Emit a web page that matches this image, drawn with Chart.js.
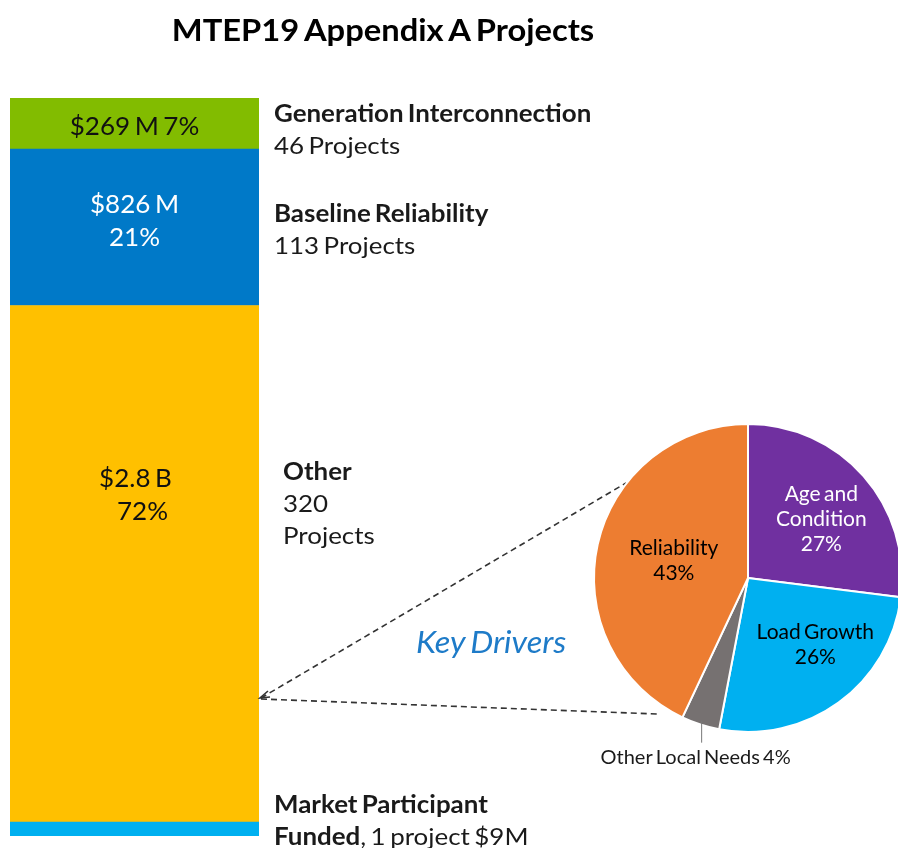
<!DOCTYPE html>
<html><head><meta charset="utf-8">
<script src="https://cdn.jsdelivr.net/npm/chart.js@4.4.1/dist/chart.umd.min.js"></script>
<style>
html,body{margin:0;padding:0;width:898px;height:848px;overflow:hidden;background:#fff;}
#bar{position:absolute;left:0;top:0;}
#pie{position:absolute;left:580px;top:410px;}
</style></head><body>
<canvas id="bar" width="898" height="848"></canvas>
<canvas id="pie" width="340" height="370"></canvas>
<script>
// ---- data ----
const barCategories = ['MTEP19 Appendix A'];
const barSeries = ['Market Participant Funded', 'Other', 'Baseline Reliability', 'Generation Interconnection'];
const barValuesM = [9, 2800, 826, 269];
const barValueLabels = ['$9M', '$2.8 B', '$826 M', '$269 M'];
const barPercents = ['', '72%', '21%', '7%'];
const barProjects = [1, 320, 113, 46];
const barColors = ['#00B0F0', '#FFC000', '#0079C8', '#82BC00'];
const pieLabels = ['Age and Condition', 'Load Growth', 'Other Local Needs', 'Reliability'];
const pieValues = [27, 26, 4, 43];
const pieColors = ['#7030A0', '#00B0F0', '#767171', '#ED7D31'];

const FONT = 'Lato, "Open Sans", sans-serif';
// main stack (the small Market Participant band is overlaid at the base)
const mainStackTotal = barValuesM.slice(1).reduce((a, b) => a + b, 0);

function txt(ctx, s, x, y, font, sx, align, color, ws) {
  ctx.save();
  ctx.font = font;
  ctx.fillStyle = color;
  ctx.textAlign = align || 'left';
  ctx.textBaseline = 'middle';
  if ('wordSpacing' in ctx) ctx.wordSpacing = (ws == null ? -2 : ws) + 'px';
  ctx.translate(x, y);
  ctx.scale(sx, 1);
  ctx.fillText(s, 0, 0);
  const w = ctx.measureText(s).width * sx;
  ctx.restore();
  return w;
}

const barAnnot = {
  id: 'barAnnot',
  afterDraw(chart) {
    const ctx = chart.ctx;
    const el = i => chart.getDatasetMeta(i).data[0];
    // title
    txt(ctx, 'MTEP19 Appendix A Projects', 383, 31, 'bold 30px ' + FONT, 1.09, 'center', '#000', -3);

    // segment labels
    const segF = '25px ' + FONT;
    let e = el(3);
    txt(ctx, barValueLabels[3] + ' ' + barPercents[3], e.x, (e.y + e.base) / 2 + 3, segF, 1.04, 'center', '#111');
    e = el(2);
    txt(ctx, barValueLabels[2], e.x, e.y + 56, segF, 1.04, 'center', '#fff');
    txt(ctx, barPercents[2], e.x, e.y + 89, segF, 1.04, 'center', '#fff');
    e = el(1);
    txt(ctx, barValueLabels[1], e.x + 1, e.y + 173, segF, 1.04, 'center', '#111');
    txt(ctx, barPercents[1], e.x + 8, e.y + 206, segF, 1.04, 'center', '#111');

    // right side labels
    const bF = 'bold 24px ' + FONT, rF = '24px ' + FONT, S = 1.08, C = '#1a1a1a';
    txt(ctx, barSeries[3], 274, 114, bF, S, 'left', C);
    txt(ctx, barProjects[3] + ' Projects', 274, 146, rF, S, 'left', C);
    txt(ctx, barSeries[2], 274, 214, bF, S, 'left', C);
    txt(ctx, barProjects[2] + ' Projects', 274, 246, rF, S, 'left', C);
    txt(ctx, barSeries[1], 283, 472, bF, S, 'left', C);
    txt(ctx, String(barProjects[1]), 283, 504, rF, S, 'left', C);
    txt(ctx, 'Projects', 283, 536, rF, S, 'left', C);
    txt(ctx, 'Market Participant', 274, 805, bF, S, 'left', C);
    const fw = txt(ctx, 'Funded', 274, 837, bF, S, 'left', C);
    txt(ctx, ', ' + barProjects[0] + ' project ' + barValueLabels[0], 274 + fw, 837, rF, S, 'left', C);

    // dashed connector lines
    ctx.save();
    ctx.strokeStyle = '#333';
    ctx.lineWidth = 1.6;
    ctx.setLineDash([6, 4]);
    ctx.beginPath();
    ctx.moveTo(261, 698); ctx.lineTo(626, 483);
    ctx.moveTo(261, 699); ctx.lineTo(657, 714);
    ctx.stroke();
    ctx.setLineDash([]);
    ctx.beginPath();
    ctx.moveTo(268, 691); ctx.lineTo(260, 698); ctx.lineTo(270, 697);
    ctx.stroke();
    ctx.restore();

    // Key Drivers
    txt(ctx, 'Key Drivers', 416, 643, 'italic 31px ' + FONT, 1.05, 'left', '#1E7BC8', -3);
  }
};

new Chart(document.getElementById('bar'), {
  type: 'bar',
  data: {
    labels: barCategories,
    datasets: barSeries.map((s, i) => ({
      label: s,
      data: [barValuesM[i]],
      backgroundColor: barColors[i],
      borderWidth: 0,
      barPercentage: 1,
      categoryPercentage: 1,
      grouped: false,
      stack: i === 0 ? 'base' : 'main',
      minBarLength: i === 0 ? 14 : 0
    }))
  },
  options: {
    responsive: false,
    animation: false,
    events: [],
    layout: { padding: { left: 10, right: 639, top: 98, bottom: 12 } },
    plugins: { legend: { display: false }, tooltip: { enabled: false } },
    scales: {
      x: { display: false, stacked: true },
      y: { display: false, stacked: true, min: 0, max: mainStackTotal }
    }
  },
  plugins: [barAnnot]
});

const pieAnnot = {
  id: 'pieAnnot',
  afterDatasetsDraw(chart) {
    const ctx = chart.ctx;
    const arcs = chart.getDatasetMeta(0).data;
    const F = '21px ' + FONT;
    const specs = [
      { lines: ['Age and', 'Condition', pieValues[0] + '%'], color: '#fff', f: 0.6, dx: 4, dy: 2 },
      { lines: ['Load Growth', pieValues[1] + '%'], color: '#000', f: 0.6, dx: 13, dy: -8 },
      null,
      { lines: ['Reliability', pieValues[3] + '%'], color: '#000', f: 0.6, dx: 16, dy: 3 }
    ];
    arcs.forEach((a, i) => {
      const p = a.getProps(['x', 'y', 'startAngle', 'endAngle', 'outerRadius']);
      const mid = (p.startAngle + p.endAngle) / 2;
      if (specs[i]) {
        const s = specs[i];
        const cx = p.x + Math.cos(mid) * p.outerRadius * s.f + s.dx;
        const cy = p.y + Math.sin(mid) * p.outerRadius * s.f + s.dy;
        const n = s.lines.length;
        s.lines.forEach((t, k) => txt(ctx, t, cx, cy + (k - (n - 1) / 2) * 25, F, 1, 'center', s.color));
      } else {
        const ex = p.x + Math.cos(mid) * (p.outerRadius - 4);
        const ey = p.y + Math.sin(mid) * (p.outerRadius - 4);
        ctx.save();
        ctx.strokeStyle = '#777';
        ctx.lineWidth = 1;
        ctx.beginPath();
        ctx.moveTo(ex, ey);
        ctx.lineTo(ex, ey + 22);
        ctx.stroke();
        ctx.restore();
        txt(ctx, pieLabels[i] + ' ' + pieValues[i] + '%', ex - 6, ey + 37, '20px ' + FONT, 1, 'center', '#1a1a1a');
      }
    });
  }
};

new Chart(document.getElementById('pie'), {
  type: 'pie',
  data: {
    labels: pieLabels,
    datasets: [{ data: pieValues, backgroundColor: pieColors, borderColor: '#fff', borderWidth: 2 }]
  },
  options: {
    responsive: false,
    animation: false,
    events: [],
    layout: { padding: { left: 13, right: 17, top: 13, bottom: 47 } },
    plugins: { legend: { display: false }, tooltip: { enabled: false } }
  },
  plugins: [pieAnnot]
});
</script>
</body></html>
